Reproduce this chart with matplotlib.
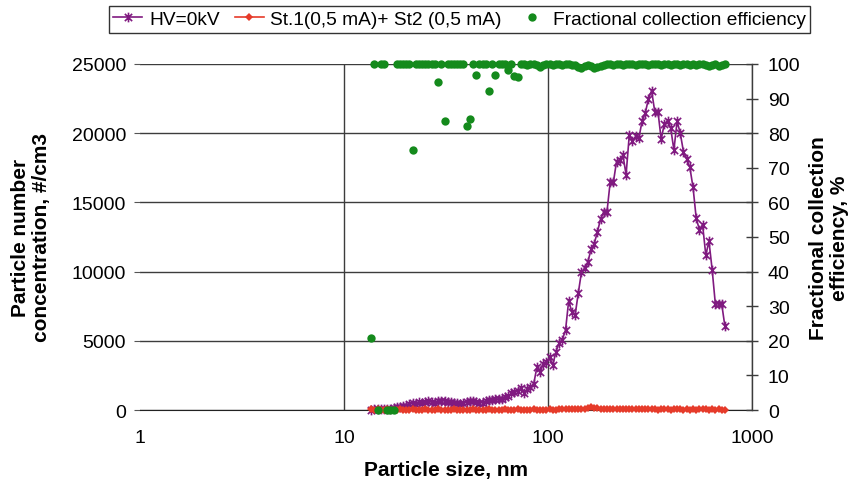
import numpy as np
import matplotlib
matplotlib.use("Agg")
import matplotlib.pyplot as plt
from matplotlib.path import Path
from matplotlib.lines import Line2D

plt.rcParams['font.family'] = ['Liberation Sans', 'DejaVu Sans']

# SMPS channel midpoints, nm (64 channels per decade)
size_nm = [
    13.6, 14.1, 14.6, 15.1, 15.7, 16.3, 16.8, 17.5, 18.1, 18.8, 19.5,
    20.2, 20.9, 21.7, 22.5, 23.3, 24.1, 25.0, 25.9, 26.9, 27.9, 28.9,
    30.0, 31.1, 32.2, 33.4, 34.6, 35.9, 37.2, 38.5,
    40.0, 41.4, 42.9, 44.5, 46.1, 47.8, 49.6,
    51.4, 53.3, 55.2, 57.3, 59.4,
    61.5, 63.8, 66.1, 68.5, 71.0, 73.7, 76.4, 79.1,
    82.0, 85.1, 88.2, 91.4, 94.7, 98.2,
    101.8, 105.5, 109.4, 113.4, 117.6, 121.9, 126.3, 131.0, 135.8, 140.7,
    145.9, 151.2, 156.8, 162.5, 168.5, 174.7, 181.1, 187.7, 194.6,
    201.7, 209.1, 216.7, 224.7, 232.9, 241.4, 250.3, 259.5, 269.0, 278.8,
    289.0, 299.6,
    310.6, 322.0, 333.8, 346.0, 358.7, 371.8, 385.4, 399.5,
    414.2, 429.4, 445.1, 461.4, 478.3, 495.8,
    514.0, 532.8, 552.3, 572.5, 593.5, 615.3, 637.8, 661.2, 685.4, 710.5,
    736.5,
]

# HV = 0 kV, #/cm3
conc_hv0 = [
    30, 40, 60, 50, 80, 100, 90, 150, 220, 250, 300,
    320, 420, 500, 460, 560, 520, 600, 670, 560, 500, 620,
    680, 640, 560, 600, 520, 480, 430, 520,
    600, 650, 670, 600, 540, 505, 640,
    745, 720, 760, 795, 800,
    915, 1030, 1200, 1280, 1400, 1570, 1200, 1550,
    1680, 1880, 3085, 2720, 3320, 3450,
    3810, 3250, 4210, 4860, 5080, 5780, 7900, 7060, 6860, 8430,
    9970, 10250, 10700, 11600, 12015, 12880, 13800, 14330, 14330,
    16450, 16450, 17940, 18060, 18420, 17000, 19870, 19460, 19780, 19630,
    20860, 21440,
    22470, 23070, 21550, 21550, 19580, 20660, 20900, 20350,
    18790, 20860, 19990, 18660, 18130, 17530,
    16090, 13850, 13030, 13390, 11200, 12190, 10140, 7660, 7660, 7660,
    6050,
]

# St.1 (0,5 mA) + St2 (0,5 mA), #/cm3
conc_st12 = [
    40, 30, 50, 20, 30, 40, 20, 30, 20, 40, 30,
    20, 30, 40, 20, 30, 20, 40, 30, 20, 30, 40,
    20, 30, 30, 20, 40, 30, 20, 30,
    20, 30, 40, 20, 30, 20, 30,
    40, 20, 30, 20, 30,
    40, 30, 20, 30, 40, 20, 30, 20,
    30, 40, 20, 30, 20, 30,
    40, 30, 30, 40, 50, 40, 60, 50, 60, 70,
    80, 90, 120, 200, 160, 110, 90, 80, 70,
    60, 50, 60, 50, 40, 50, 60, 50, 40, 50,
    40, 50,
    40, 50, 40, 30, 40, 50, 40, 30,
    40, 50, 40, 30, 40, 30,
    40, 30, 40, 50, 40, 30, 40, 30, 40, 30,
    30,
]

# Fractional collection efficiency, %
efficiency = [
    20.8, 100, 0, 100, 100, 0, 0, 0, 100, 100, 100,
    100, 100, 75.1, 100, 100, 100, 100, 100, 100, 100, 94.9,
    100, 83.4, 100, 100, 100, 100, 100, 100,
    82.2, 84.1, 100, 96.9, 100, 100, 100,
    92.2, 100, 96.8, 100, 100,
    100, 98.3, 100, 96.6, 96.1, 99.9, 100, 99.8,
    100, 99.9, 99.7, 99.2, 99.8, 100,
    99.9, 99.8, 100, 99.9, 99.8, 99.9, 100, 99.7, 99.6, 99.0,
    98.9, 99.4, 99.6, 99.3, 98.7, 99.2, 99.5, 99.8, 99.9,
    100, 99.8, 99.9, 100, 99.8, 99.9, 100, 99.9, 99.8, 100,
    99.9, 100,
    99.8, 99.9, 100, 99.9, 99.8, 100, 99.9, 99.8,
    100, 99.9, 99.8, 99.9, 100, 99.8,
    99.9, 99.8, 100, 99.9, 99.7, 99.3, 99.7, 99.9, 99.3, 99.8,
    99.9,
]

purple = '#801a80'
red = '#e63b2a'
green = '#148a1c'
grid_col = '#3c3c3c'

# Excel-style star marker: an X with a vertical bar
star = Path([(0, -1), (0, 1), (-0.75, -0.75), (0.75, 0.75), (-0.75, 0.75), (0.75, -0.75)],
            [Path.MOVETO, Path.LINETO] * 3)

fig = plt.figure(figsize=(8.52, 4.89), dpi=100)
ax = fig.add_axes([140 / 852, 1 - 411 / 489, 612 / 852, 346 / 489])

ax.plot(size_nm, conc_hv0, color=purple, lw=1.2, marker=star, ms=7, mew=1.2,
        mfc='none', mec=purple, clip_on=False, zorder=3)
ax.plot(size_nm, conc_st12, color=red, lw=1.2, marker='D', ms=4.2, mew=0,
        mfc=red, clip_on=False, zorder=4)

ax.set_xscale('log')
ax.set_xlim(1, 1000)
ax.set_ylim(0, 25000)
ax.set_xticks([1, 10, 100, 1000])
ax.set_xticklabels(['1', '10', '100', '1000'])
ax.xaxis.set_minor_locator(matplotlib.ticker.NullLocator())
ax.set_yticks(np.arange(0, 25001, 5000))
ax.grid(True, which='major', color=grid_col, lw=1.0)
ax.xaxis.get_gridlines()[0].set_visible(False)
ax.set_axisbelow(True)
for side in ['left', 'top', 'right']:
    ax.spines[side].set_visible(False)
ax.spines['bottom'].set_color('#222222')
ax.tick_params(axis='y', length=4, width=0.8, color='#555555', pad=6, labelsize=14)
ax.tick_params(axis='x', length=0, pad=14, labelsize=14)

ax2 = ax.twinx()
ax2.plot(size_nm, efficiency, ls='none', marker='o', ms=6, mew=0, color=green,
         clip_on=False, zorder=5)
ax2.set_ylim(0, 100)
ax2.set_yticks(np.arange(0, 101, 10))
for side in ['left', 'top', 'bottom']:
    ax2.spines[side].set_visible(False)
ax2.spines['right'].set_color(grid_col)
ax2.spines['right'].set_linewidth(1.0)
ax2.tick_params(axis='y', direction='inout', length=9, width=1.0, color=grid_col,
                pad=7, labelsize=14)

fig.text(446 / 852, 1 - 471 / 489, 'Particle size, nm', ha='center', va='center',
         fontsize=15, fontweight='bold')
fig.text(31 / 852, 1 - 238 / 489, 'Particle number\nconcentration, #/cm3', ha='center',
         va='center', rotation=90, fontsize=15, fontweight='bold', linespacing=1.15)
fig.text(829 / 852, 1 - 238 / 489, 'Fractional collection\nefficiency, %', ha='center',
         va='center', rotation=90, fontsize=15, fontweight='bold', linespacing=1.15)

handles = [
    Line2D([], [], color=purple, lw=1.2, marker=star, ms=7, mew=1.2, mfc='none'),
    Line2D([], [], color=red, lw=1.2, marker='D', ms=4.2, mew=0),
    Line2D([], [], ls='none', marker='o', ms=6, mew=0, color=green),
]
labels = ['HV=0kV', 'St.1(0,5 mA)+ St2 (0,5 mA)', 'Fractional collection efficiency']
leg = fig.legend(handles, labels, loc='center', bbox_to_anchor=(459.5 / 852, 1 - 20 / 489),
                 ncol=3, fontsize=13.8, frameon=True, fancybox=False, edgecolor='black',
                 handlelength=1.5, handletextpad=0.35, columnspacing=0.8, borderpad=0.25,
                 borderaxespad=0)
leg.get_frame().set_linewidth(1.0)

fig.savefig('out.png', dpi=100)
